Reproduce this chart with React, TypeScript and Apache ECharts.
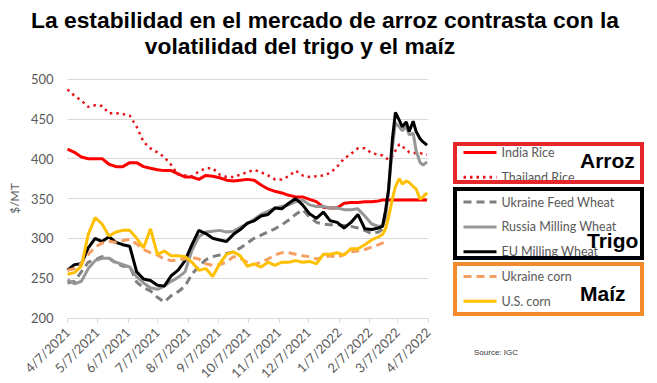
import React, { useEffect, useRef } from 'react';
import * as echarts from 'echarts';

const dates = [
  '2021-04-07', '2021-04-14', '2021-04-21', '2021-04-28', '2021-05-05', '2021-05-12', '2021-05-19', '2021-05-26',
  '2021-06-02', '2021-06-09', '2021-06-16', '2021-06-23', '2021-06-30', '2021-07-07', '2021-07-14', '2021-07-21',
  '2021-07-28', '2021-08-04', '2021-08-11', '2021-08-18', '2021-08-25', '2021-09-01', '2021-09-08', '2021-09-15',
  '2021-09-22', '2021-09-29', '2021-10-06', '2021-10-13', '2021-10-20', '2021-10-27', '2021-11-03', '2021-11-10',
  '2021-11-17', '2021-11-24', '2021-12-01', '2021-12-08', '2021-12-15', '2021-12-22', '2021-12-29', '2022-01-05',
  '2022-01-12', '2022-01-19', '2022-01-26', '2022-02-02', '2022-02-09', '2022-02-16', '2022-02-20', '2022-02-23',
  '2022-02-26', '2022-03-02', '2022-03-05', '2022-03-09', '2022-03-12', '2022-03-16', '2022-03-19', '2022-03-23',
  '2022-03-26', '2022-03-30', '2022-04-02', '2022-04-06',
];

const tickLabels = [
  '4/7/2021', '5/7/2021', '6/7/2021', '7/7/2021', '8/7/2021', '9/7/2021', '10/7/2021',
  '11/7/2021', '12/7/2021', '1/7/2022', '2/7/2022', '3/7/2022', '4/7/2022',
];

const indiaRice = [
  412, 408, 402, 400, 400, 400, 393, 390, 390, 395, 395, 390, 388, 386, 385, 385, 381, 377, 377, 374,
  379, 378, 376, 373, 372, 373, 374, 373, 367, 362, 359, 357, 354, 352, 352, 349, 346, 339, 338, 338,
  344, 345, 345, 346, 346, 347, 348, 348, 348, 348, 348, 348, 348, 348, 348, 348, 348, 348, 348, 348,
];

const thailandRice = [
  487, 479, 473, 465, 467, 466, 457, 457, 456, 454, 440, 421, 413, 408, 402, 392, 380, 379, 378, 384,
  388, 388, 380, 377, 377, 380, 383, 386, 383, 379, 374, 374, 378, 385, 379, 377, 378, 379, 382, 390,
  400, 406, 413, 413, 407, 405, 404, 401, 399, 403, 410, 418, 415, 412, 408, 407, 407, 407, 406, 405,
];

const ukraineFeedWheat = [
  244, 246, 258, 270, 273, 277, 275, 269, 265, 265, 245, 238, 234, 226, 220, 228, 233, 240, 255, 265,
  273, 277, 279, 281, 283, 288, 294, 300, 304, 308, 312, 317, 323, 330, 336, 327, 320, 318, 317, 317,
  316, 315, 313, 310, 306, 308, 312, 318, null, null, null, null, null, null, null, null, null, null, null, null,
];

const russiaMillingWheat = [
  248, 243, 246, 262, 272, 275, 275, 270, 267, 264, 252, 244, 238, 236, 240, 246, 251, 258, 285, 302,
  308, 309, 310, 308, 309, 314, 318, 324, 330, 334, 338, 340, 342, 346, 348, 342, 340, 340, 338, 338,
  336, 336, 337, 328, 318, 315, 316, 325, 360, 415, 445, 440, 435, 440, 430, 432, 410, 395, 392, 396,
];

const euMillingWheat = [
  260, 267, 268, 288, 300, 296, 302, 295, 292, 290, 258, 249, 247, 241, 240, 253, 260, 272, 292, 310,
  306, 300, 298, 296, 305, 311, 319, 322, 328, 330, 338, 337, 344, 350, 342, 331, 325, 333, 322, 320,
  313, 320, 330, 312, 311, 313, 315, 335, 360, 425, 458, 448, 440, 446, 434, 447, 434, 425, 421, 417,
];

const ukraineCorn = [
  260, 262, 268, 280, 289, 294, 296, 295, 297, 299, 293, 286, 282, 279, 274, 272, 273, 274, 276, 274,
  268, 266, 267, 270, 277, 275, 270, 267, 270, 274, 279, 282, 282, 280, 278, 277, 274, 276, 278, 276,
  280, 283, 284, 286, 289, 292, 294, 297, null, null, null, null, null, null, null, null, null, null, null, null,
];

const usCorn = [
  255, 257, 265, 305, 326, 318, 303, 308, 310, 310, 300, 288, 312, 280, 284, 278, 278, 277, 270, 260,
  262, 252, 268, 280, 283, 278, 265, 268, 264, 270, 266, 270, 270, 272, 270, 271, 268, 280, 280, 282,
  279, 287, 287, 292, 298, 302, 305, 312, 326, 350, 365, 375, 368, 372, 370, 365, 362, 349, 352, 357,
];

const seriesNames = [
  'India Rice', 'Thailand Rice', 'Ukraine Feed Wheat', 'Russia Milling Wheat',
  'EU Milling Wheat', 'Ukraine corn', 'U.S. corn',
];

const DAY = 86400000;

function isoTs(s: string): number {
  const [y, m, d] = s.split('-').map(Number);
  return Date.UTC(y, m - 1, d);
}
function labelTs(s: string): number {
  const [m, d, y] = s.split('/').map(Number);
  return Date.UTC(y, m - 1, d);
}
const startTs = labelTs(tickLabels[0]);
const dayOf = (ts: number) => Math.round((ts - startTs) / DAY);

function pairs(vals: (number | null)[]) {
  const out: [number, number][] = [];
  vals.forEach((v, i) => {
    if (v !== null) out.push([dayOf(isoTs(dates[i])), v]);
  });
  return out;
}

export default function App() {
  const ref = useRef<HTMLDivElement>(null);

  useEffect(() => {
    if (!ref.current) return;
    const chart = echarts.init(ref.current, undefined, { renderer: 'svg' });
    const ticks = tickLabels.map((t) => dayOf(labelTs(t)));
    const axisFont = 'Lato, "Liberation Sans", Arial, sans-serif';
    const boldFont = '"Liberation Sans", Arial, sans-serif';

    const mk = (name: string, vals: (number | null)[], color: string, type: any, width = 3) => ({
      name,
      type: 'line',
      data: pairs(vals),
      symbol: 'none',
      showSymbol: false,
      lineStyle: { color, width, type },
      itemStyle: { color },
      emphasis: { disabled: true },
    });

    chart.setOption({
      animation: false,
      textStyle: { fontFamily: axisFont },
      grid: { left: 61, right: 229, top: 79, bottom: 65 },
      xAxis: {
        type: 'value',
        min: ticks[0],
        max: ticks[ticks.length - 1],
        axisLine: { show: true, onZero: false, lineStyle: { color: '#d9d9d9', width: 1 } },
        axisTick: { show: true, customValues: ticks, length: 5, lineStyle: { color: '#d9d9d9' } },
        axisLabel: {
          customValues: ticks,
          rotate: 45,
          fontSize: 13,
          color: '#595959',
          margin: 12,
          fontFamily: axisFont,
          formatter: (v: number) => {
            const idx = ticks.indexOf(v);
            return idx >= 0 ? tickLabels[idx] : '';
          },
        },
        splitLine: { show: false },
      },
      yAxis: {
        type: 'value',
        min: 200,
        max: 500,
        interval: 50,
        name: '$/MT',
        nameLocation: 'middle',
        nameRotate: 90,
        nameGap: 39,
        nameTextStyle: { color: '#595959', fontSize: 12, fontFamily: axisFont },
        axisLine: { show: false },
        axisTick: { show: false },
        axisLabel: { fontSize: 13, color: '#595959', margin: 14, fontFamily: axisFont },
        splitLine: { lineStyle: { color: '#d9d9d9', width: 1 } },
      },
      legend: {
        orient: 'vertical',
        left: 462,
        top: 146,
        padding: 0,
        itemWidth: 33,
        itemHeight: 14,
        itemGap: 11.8,
        selectedMode: false,
        data: seriesNames,
        lineStyle: { width: 3 },
        itemStyle: { opacity: 0 },
        textStyle: { color: '#595959', fontSize: 12.5, fontFamily: axisFont },
      },
      series: [
        mk(seriesNames[0], indiaRice, '#FF0000', 'solid'),
        mk(seriesNames[1], thailandRice, '#E8141C', [2.5, 4], 2.5),
        mk(seriesNames[2], ukraineFeedWheat, '#7F7F7F', [8, 5]),
        mk(seriesNames[3], russiaMillingWheat, '#969696', 'solid'),
        mk(seriesNames[4], euMillingWheat, '#000000', 'solid'),
        mk(seriesNames[5], ukraineCorn, '#F4A065', [8, 5]),
        mk(seriesNames[6], usCorn, '#FFC000', 'solid'),
      ],
      graphic: [
        {
          type: 'text', x: 325, y: 20, z: 100,
          style: { text: 'La estabilidad en el mercado de arroz contrasta con la', fontSize: 22.8, fontWeight: 'bold', fontFamily: boldFont, fill: '#000', align: 'center', verticalAlign: 'middle' },
        },
        {
          type: 'text', x: 300, y: 46, z: 100,
          style: { text: 'volatilidad del trigo y el maíz', fontSize: 22.8, fontWeight: 'bold', fontFamily: boldFont, fill: '#000', align: 'center', verticalAlign: 'middle' },
        },
        { type: 'rect', z: 50, shape: { x: 455, y: 144, width: 187, height: 38 }, style: { fill: 'none', stroke: '#E5262B', lineWidth: 4 } },
        { type: 'rect', z: 50, shape: { x: 455, y: 189, width: 187, height: 69 }, style: { fill: 'none', stroke: '#000000', lineWidth: 4 } },
        { type: 'rect', z: 50, shape: { x: 455, y: 264, width: 187, height: 50 }, style: { fill: 'none', stroke: '#F28A2E', lineWidth: 4 } },
        {
          type: 'text', x: 580, y: 160, z: 100,
          style: { text: 'Arroz', fontSize: 21, fontWeight: 'bold', fontFamily: boldFont, fill: '#000', align: 'left', verticalAlign: 'middle' },
        },
        {
          type: 'text', x: 587, y: 240, z: 100,
          style: { text: 'Trigo', fontSize: 21, fontWeight: 'bold', fontFamily: boldFont, fill: '#000', align: 'left', verticalAlign: 'middle' },
        },
        {
          type: 'text', x: 580, y: 293, z: 100,
          style: { text: 'Maíz', fontSize: 21, fontWeight: 'bold', fontFamily: boldFont, fill: '#000', align: 'left', verticalAlign: 'middle' },
        },
        {
          type: 'text', x: 474, y: 352, z: 100,
          style: { text: 'Source: IGC', fontSize: 8, fontFamily: boldFont, fill: '#333', align: 'left', verticalAlign: 'middle' },
        },
      ],
    });

    return () => chart.dispose();
  }, []);

  return (
    <div
      ref={ref}
      style={{ position: 'fixed', left: 0, top: 0, width: 657, height: 383, background: '#fff' }}
    />
  );
}
